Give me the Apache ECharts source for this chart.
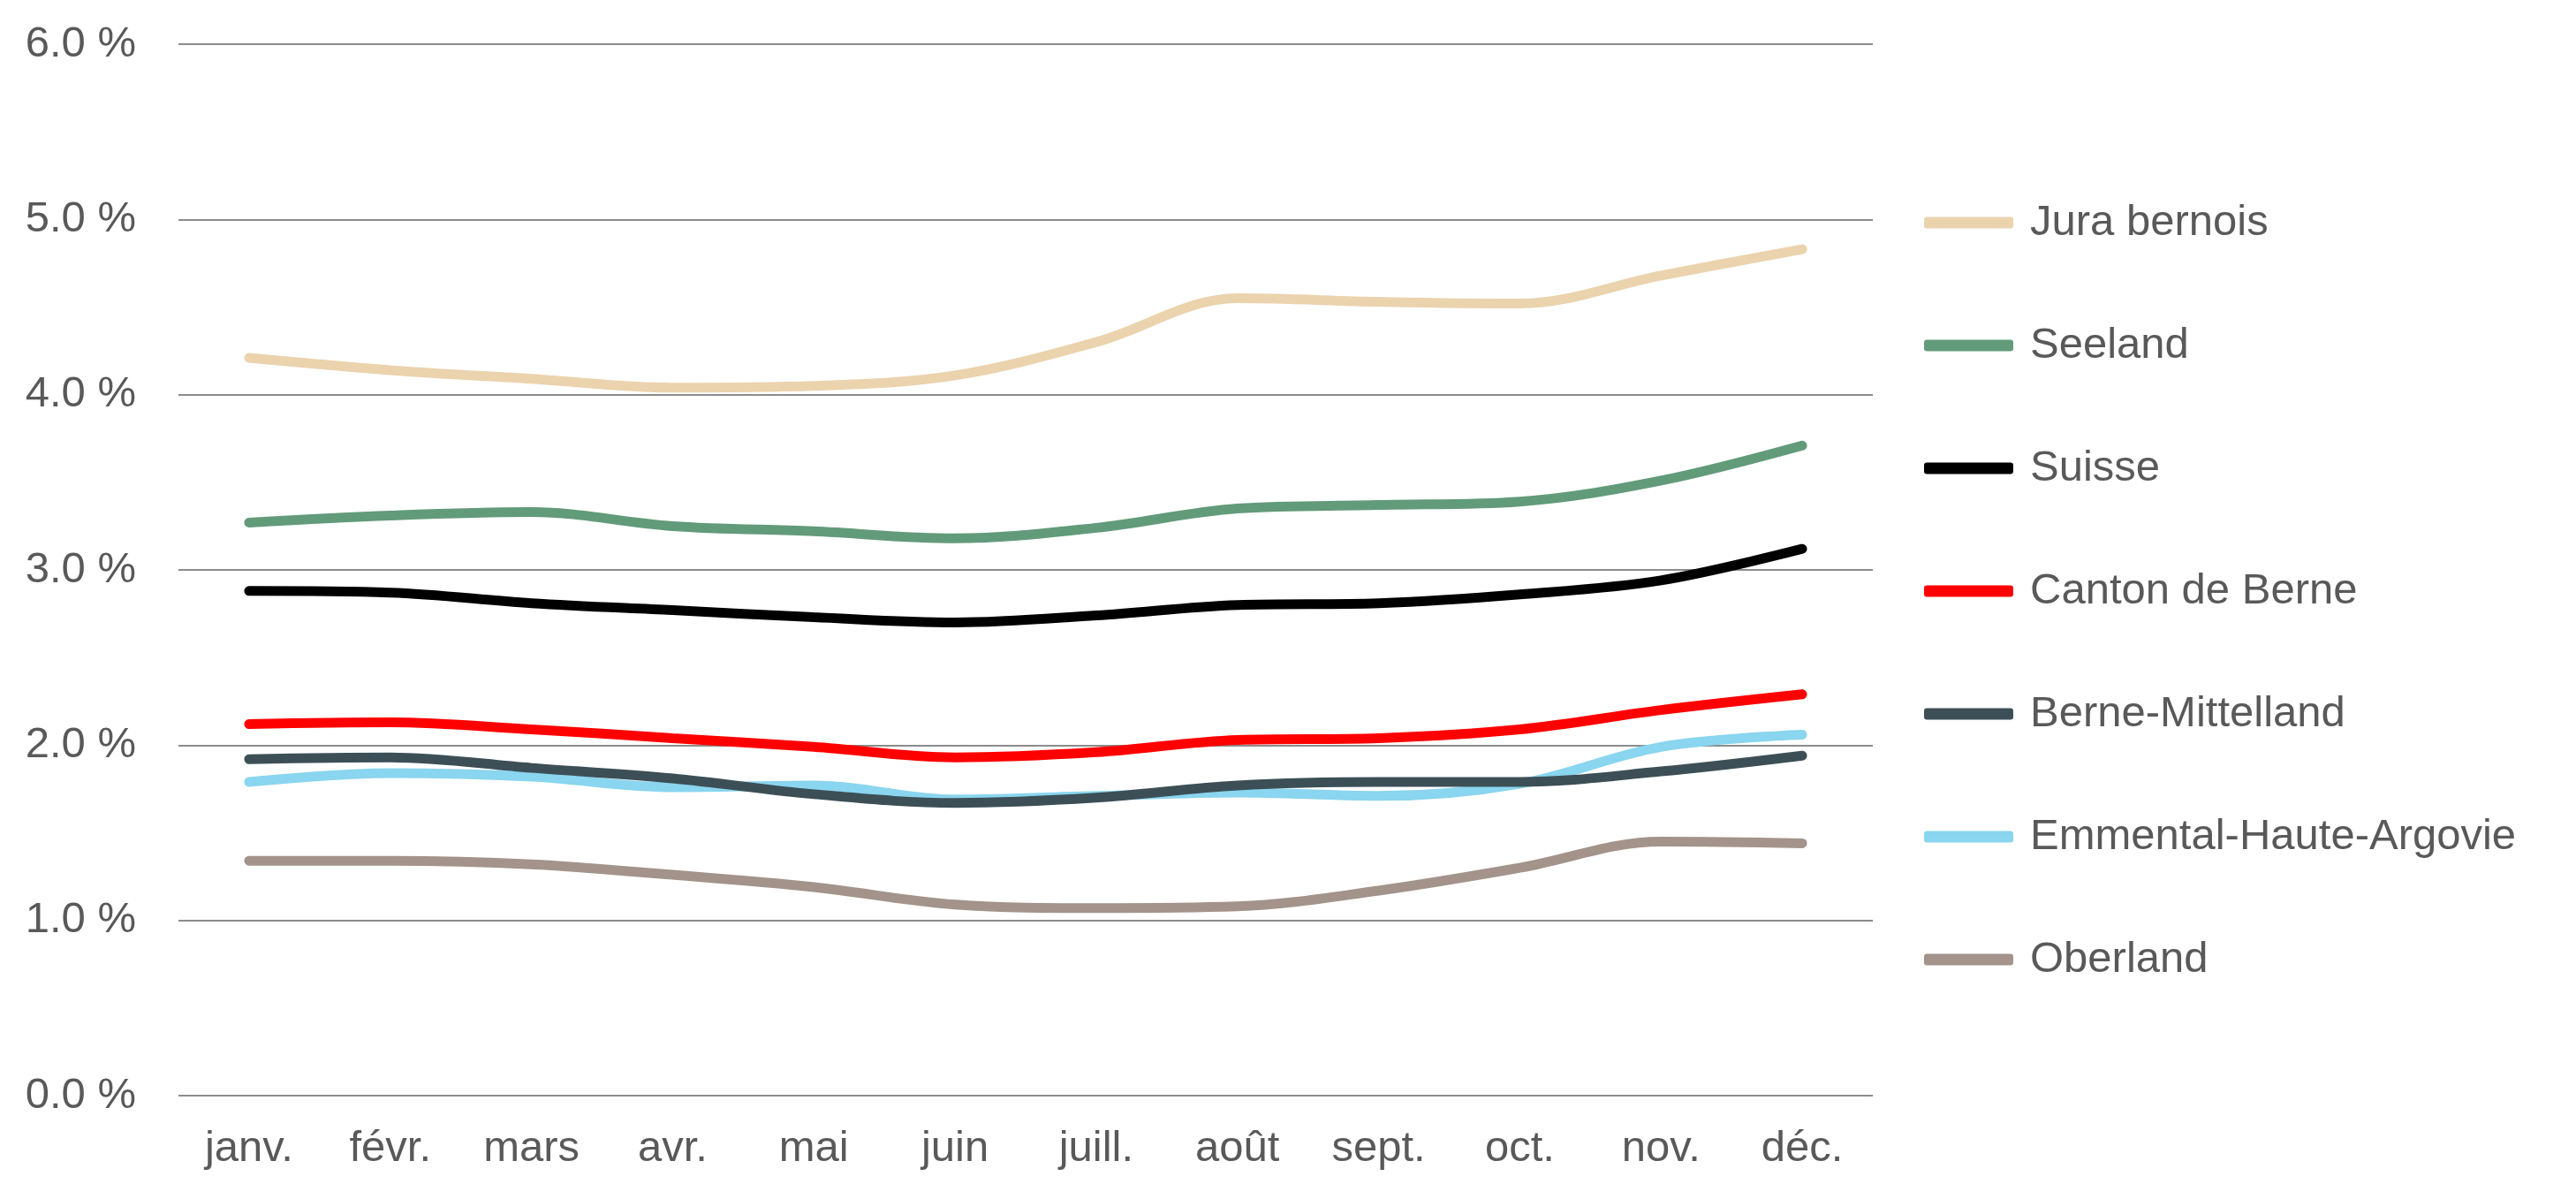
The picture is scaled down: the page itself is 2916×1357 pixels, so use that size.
<!DOCTYPE html>
<html>
<head>
<meta charset="utf-8">
<script src="https://cdn.jsdelivr.net/npm/echarts@6/dist/echarts.min.js"></script>
<style>
html,body{margin:0;padding:0;background:#fff;}
#chart{width:2916px;height:1357px;}
</style>
</head>
<body>
<div id="chart"></div>
<script>
const months = ['janv.','févr.','mars','avr.','mai','juin','juill.','août','sept.','oct.','nov.','déc.'];
const seriesNames = ['Jura bernois','Seeland','Suisse','Canton de Berne','Berne-Mittelland','Emmental-Haute-Argovie','Oberland'];
const seriesColors = ['#EBD3AE','#629B7A','#000000','#FF0000','#3C4F57','#8AD5EF','#A3938A'];
const juraBernois = [4.21,4.14,4.09,4.04,4.05,4.11,4.30,4.55,4.53,4.52,4.68,4.83];
const seeland = [3.27,3.31,3.33,3.25,3.22,3.18,3.24,3.35,3.37,3.39,3.51,3.71];
const suisse = [2.88,2.87,2.81,2.77,2.73,2.70,2.74,2.80,2.81,2.86,2.94,3.12];
const cantonBerne = [2.12,2.13,2.09,2.04,1.99,1.93,1.96,2.03,2.04,2.09,2.20,2.29];
const berneMittelland = [1.92,1.93,1.87,1.81,1.72,1.67,1.70,1.77,1.79,1.79,1.85,1.94];
const emmental = [1.79,1.84,1.82,1.76,1.77,1.69,1.71,1.73,1.71,1.78,1.99,2.06];
const oberland = [1.34,1.34,1.32,1.26,1.19,1.09,1.07,1.08,1.17,1.30,1.45,1.44];
const yTicks = [0,1,2,3,4,5,6];

const allData = [juraBernois, seeland, suisse, cantonBerne, berneMittelland, emmental, oberland];
const font = '"Liberation Sans", Arial, sans-serif';
const chart = echarts.init(document.getElementById('chart'));
chart.setOption({
  animation: false,
  color: seriesColors,
  grid: {left: 202, right: 796, top: 50, bottom: 117, containLabel: false},
  xAxis: {
    type: 'category',
    data: months,
    boundaryGap: true,
    axisLine: {show: false},
    axisTick: {show: false},
    axisLabel: {color: '#595959', fontSize: 49, fontFamily: font, margin: 36}
  },
  yAxis: {
    type: 'value',
    min: yTicks[0],
    max: yTicks[yTicks.length-1],
    interval: 1,
    axisLine: {show: false},
    axisTick: {show: false},
    splitLine: {lineStyle: {color: '#8c8c8c', width: 2}},
    axisLabel: {color: '#595959', fontSize: 49, fontFamily: font, margin: 48,
      formatter: v => v.toFixed(1) + ' %'}
  },
  legend: {
    orient: 'vertical',
    left: 2173,
    top: 219,
    itemWidth: 101,
    itemHeight: 13,
    itemGap: 83,
    icon: 'roundRect',
    data: seriesNames,
    textStyle: {color: '#595959', fontSize: 49, fontFamily: font, lineHeight: 56, padding: [0,0,0,14]}
  },
  series: seriesNames.map((n, i) => ({
    name: n,
    type: 'line',
    data: allData[i],
    smooth: 0.35,
    symbol: 'none',
    lineStyle: {width: 11, color: seriesColors[i], cap: 'round'},
    z: 10 - i
  }))
});
</script>
</body>
</html>
